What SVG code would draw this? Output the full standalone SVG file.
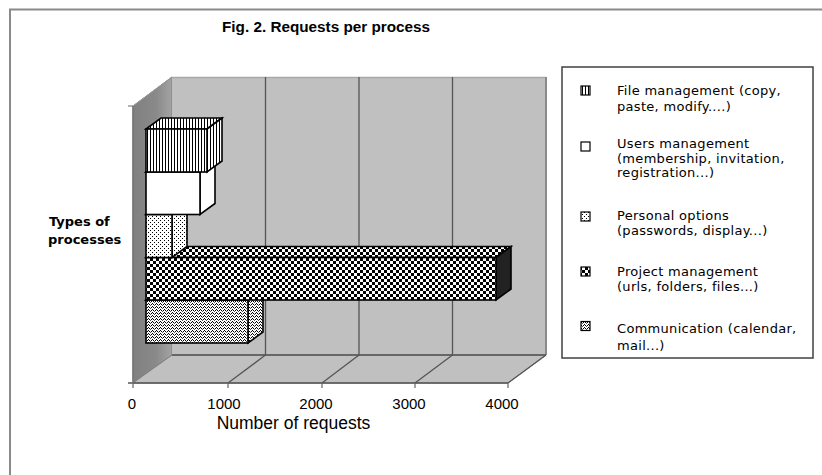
<svg xmlns="http://www.w3.org/2000/svg" width="822" height="475" viewBox="0 0 822 475">
<defs>
<style>
.bar{stroke:#000;stroke-width:1.6;stroke-linejoin:miter}
.grid{stroke:#555;stroke-width:1.3;fill:none}
.tick{stroke:#666;stroke-width:1.2;fill:none}
.lt{font-family:"DejaVu Sans",Verdana,sans-serif;font-size:13px;letter-spacing:0.3px;fill:#000}
.ax{font-family:"Liberation Sans",Arial,sans-serif;fill:#000}
.sw{stroke:#000;stroke-width:1.2}
</style>
<pattern id="pVert" width="3" height="4" patternUnits="userSpaceOnUse"><rect width="3" height="4" fill="#fff"/><rect width="1" height="4" fill="#000"/></pattern>
<pattern id="pDots" width="4" height="4" patternUnits="userSpaceOnUse"><rect width="4" height="4" fill="#fff"/><rect width="1" height="1" fill="#000"/><rect x="2" y="2" width="1" height="1" fill="#000"/></pattern>
<pattern id="pCheck" width="6" height="6" patternUnits="userSpaceOnUse"><rect width="6" height="6" fill="#fff"/><rect width="3" height="3" fill="#000"/><rect x="3" y="3" width="3" height="3" fill="#000"/></pattern>
<pattern id="pWave" width="4" height="3" patternUnits="userSpaceOnUse"><rect width="4" height="3" fill="#fff"/><rect x="0" y="0" width="1" height="1" fill="#000"/><rect x="1" y="1" width="1" height="1" fill="#000"/><rect x="2" y="2" width="1" height="1" fill="#555"/><rect x="3" y="1" width="1" height="1" fill="#000"/></pattern>
<linearGradient id="gSide" x1="0" y1="0" x2="1" y2="0"><stop offset="0" stop-color="#808080"/><stop offset="0.6" stop-color="#8a8a8a"/><stop offset="1" stop-color="#a4a4a4"/></linearGradient>
</defs>
<rect width="822" height="475" fill="#fff"/>
<path d="M10 475 V9.5 H822" fill="none" stroke="#8a8a8a" stroke-width="2"/>
<text x="222" y="32" font-family="'Liberation Sans',Arial,sans-serif" font-weight="bold" font-size="14.5" textLength="208" lengthAdjust="spacingAndGlyphs">Fig. 2. Requests per process</text>

<g id="plot-area">
<polygon points="133,106 172,77 172,355 133,383" fill="url(#gSide)" stroke="#7a7a7a" stroke-width="1"/>
<rect x="172" y="77" width="374" height="278" fill="#c0c0c0"/>
<line x1="172" y1="77.5" x2="546" y2="77.5" stroke="#a8a8a8" stroke-width="1.5"/>
<line x1="546" y1="77" x2="546" y2="355" stroke="#8a8a8a" stroke-width="2"/>
<polygon points="133,383 172,355 546,355 508,383" fill="#c0c0c0" stroke="#808080" stroke-width="1"/>
</g>

<g id="axes">
<line class="grid" x1="265.5" y1="77" x2="265.5" y2="355"/>
<line class="grid" x1="359" y1="77" x2="359" y2="355"/>
<line class="grid" x1="452.5" y1="77" x2="452.5" y2="355"/>
<line class="grid" x1="172" y1="355" x2="546" y2="355" stroke="#666"/>
<line class="grid" x1="228" y1="383" x2="265.5" y2="355"/>
<line class="grid" x1="322" y1="383" x2="359" y2="355"/>
<line class="grid" x1="415" y1="383" x2="452.5" y2="355"/>
<line class="grid" x1="508" y1="383" x2="546" y2="355"/>
<line x1="128" y1="383" x2="508" y2="383" stroke="#555" stroke-width="1.5"/>
<line x1="133" y1="106" x2="133" y2="383" stroke="#777" stroke-width="1.5"/>
<line x1="133" y1="106" x2="172" y2="77" stroke="#999" stroke-width="1"/>
<path class="tick" d="M128 106 H133 M133 383 V388 M228 383 V388 M322 383 V388 M415 383 V388 M508 383 V388"/>
<text class="ax" font-size="15" text-anchor="middle" x="132" y="409">0</text>
<text class="ax" font-size="15" text-anchor="middle" x="224" y="409">1000</text>
<text class="ax" font-size="15" text-anchor="middle" x="316" y="409">2000</text>
<text class="ax" font-size="15" text-anchor="middle" x="409" y="409">3000</text>
<text class="ax" font-size="15" text-anchor="middle" x="502" y="409">4000</text>
<text class="ax" font-size="17.5" text-anchor="middle" x="293.5" y="429">Number of requests</text>
<text font-family="'DejaVu Sans',Verdana,sans-serif" font-weight="bold" font-size="13" x="49" y="226">Types of</text>
<text font-family="'DejaVu Sans',Verdana,sans-serif" font-weight="bold" font-size="13" x="48" y="244">processes</text>
</g>

<g id="bar-communication" class="bar" fill="url(#pWave)">
<path d="M146 300 L248 300 L263 289 L161 289 Z"/>
<path d="M248 300 L263 289 L263 332 L248 343 Z"/>
<rect x="146" y="300" width="102" height="43"/>
</g>
<g id="bar-project" class="bar" fill="url(#pCheck)">
<path d="M146 257.5 L496 257.5 L511 246.5 L161 246.5 Z"/>
<path d="M496 257.5 L511 246.5 L511 289 L496 300 Z" fill="#222"/>
<rect x="146" y="257.5" width="350" height="42.5"/>
</g>
<g id="bar-personal" class="bar" fill="url(#pDots)">
<path d="M146 214.5 L172 214.5 L187 203.5 L161 203.5 Z"/>
<path d="M172 214.5 L187 203.5 L187 246.5 L172 257.5 Z"/>
<rect x="146" y="214.5" width="26" height="43"/>
</g>
<g id="bar-users" class="bar" fill="#fff">
<path d="M146 172 L200 172 L215 161 L161 161 Z"/>
<path d="M200 172 L215 161 L215 203.5 L200 214.5 Z"/>
<rect x="146" y="172" width="54" height="42.5"/>
</g>
<g id="bar-file" class="bar" fill="url(#pVert)">
<path d="M146 129 L207 129 L222 118 L161 118 Z"/>
<path d="M207 129 L222 118 L222 161 L207 172 Z"/>
<rect x="146" y="129" width="61" height="43"/>
</g>

<g id="legend">
<rect x="562" y="67" width="251" height="291" fill="#fff" stroke="#404040" stroke-width="1.5"/>
<g id="legend-file">
<rect class="sw" x="581" y="86" width="9" height="9" fill="url(#pVert)"/>
<text class="lt" x="617" y="95">File management (copy,</text>
<text class="lt" x="617" y="111">paste, modify....)</text>
</g>
<g id="legend-users">
<rect class="sw" x="581" y="142" width="9" height="9" fill="#fff"/>
<text class="lt" x="617" y="148">Users management</text>
<text class="lt" x="617" y="162.5">(membership, invitation,</text>
<text class="lt" x="617" y="177">registration...)</text>
</g>
<g id="legend-personal">
<rect class="sw" x="581" y="212" width="9" height="9" fill="url(#pDots)"/>
<text class="lt" x="617" y="220">Personal options</text>
<text class="lt" x="617" y="234.5">(passwords, display...)</text>
</g>
<g id="legend-project">
<rect class="sw" x="581" y="267" width="9" height="9" fill="url(#pCheck)"/>
<text class="lt" x="617" y="276">Project management</text>
<text class="lt" x="617" y="290.5">(urls, folders, files...)</text>
</g>
<g id="legend-communication">
<rect class="sw" x="581" y="321.5" width="9" height="9" fill="url(#pWave)"/>
<text class="lt" x="617" y="333">Communication (calendar,</text>
<text class="lt" x="617" y="349.5">mail...)</text>
</g>
</g>
</svg>
